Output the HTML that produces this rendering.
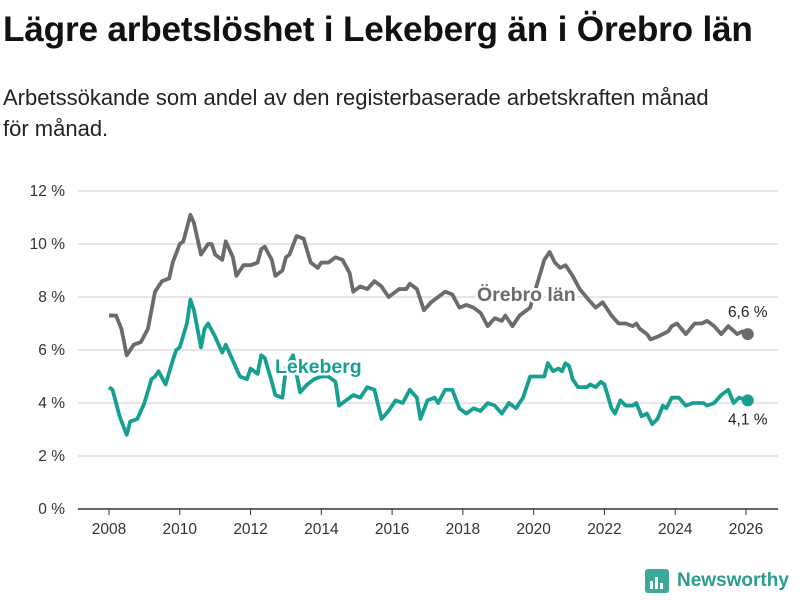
<!DOCTYPE html>
<html><head><meta charset="utf-8"><style>
body{margin:0;width:800px;height:600px;background:#fff;font-family:"Liberation Sans",sans-serif;overflow:hidden}
h1{position:absolute;left:3px;top:10px;margin:0;font-size:35.2px;font-weight:bold;color:#111;letter-spacing:-0.2px;white-space:nowrap}
p{position:absolute;left:3px;top:82px;margin:0;font-size:22px;line-height:31px;color:#222;width:730px}
</style></head><body>
<h1>Lägre arbetslöshet i Lekeberg än i Örebro län</h1>
<p>Arbetssökande som andel av den registerbaserade arbetskraften månad för månad.</p>
<svg id="c" width="800" height="600" style="position:absolute;left:0;top:0"></svg>
<div style="position:absolute;left:645px;top:569px;display:flex;align-items:center;color:#2a9d8f;font-weight:bold;font-size:19px">
<svg width="24" height="24" style="margin-right:8px"><rect width="24" height="24" rx="3" fill="#3aa99a"/><rect x="5" y="12" width="3" height="8" fill="#fff"/><rect x="10" y="8" width="3" height="12" fill="#fff"/><rect x="15" y="14" width="3" height="6" fill="#fff"/></svg>Newsworthy</div>
<script>
const yTicks=[0,2,4,6,8,10,12];
const xTicks=[2008,2010,2012,2014,2016,2018,2020,2022,2024,2026];
const orebroYears=[2008.0,2008.2,2008.35,2008.5,2008.7,2008.9,2009.1,2009.3,2009.5,2009.7,2009.8,2010.0,2010.1,2010.3,2010.4,2010.6,2010.8,2010.9,2011.0,2011.2,2011.3,2011.5,2011.6,2011.8,2012.0,2012.2,2012.3,2012.4,2012.6,2012.7,2012.9,2013.0,2013.1,2013.3,2013.5,2013.7,2013.9,2014.0,2014.2,2014.4,2014.6,2014.8,2014.9,2015.1,2015.3,2015.5,2015.7,2015.9,2016.0,2016.2,2016.4,2016.5,2016.7,2016.9,2017.1,2017.3,2017.5,2017.7,2017.9,2018.1,2018.3,2018.5,2018.7,2018.9,2019.1,2019.2,2019.4,2019.6,2019.9,2020.1,2020.3,2020.45,2020.6,2020.75,2020.9,2021.1,2021.3,2021.55,2021.75,2021.95,2022.2,2022.4,2022.6,2022.8,2022.9,2023.0,2023.2,2023.3,2023.5,2023.8,2023.9,2024.05,2024.3,2024.55,2024.75,2024.9,2025.1,2025.3,2025.5,2025.75,2025.9,2026.05];
const orebroValues=[7.3,7.3,6.8,5.8,6.2,6.3,6.8,8.2,8.6,8.7,9.3,10.0,10.1,11.1,10.8,9.6,10.0,10.0,9.6,9.4,10.1,9.5,8.8,9.2,9.2,9.3,9.8,9.9,9.4,8.8,9.0,9.5,9.6,10.3,10.2,9.3,9.1,9.3,9.3,9.5,9.4,8.9,8.2,8.4,8.3,8.6,8.4,8.0,8.1,8.3,8.3,8.5,8.3,7.5,7.8,8.0,8.2,8.1,7.6,7.7,7.6,7.4,6.9,7.2,7.1,7.3,6.9,7.3,7.6,8.5,9.4,9.7,9.3,9.1,9.2,8.8,8.3,7.9,7.6,7.8,7.3,7.0,7.0,6.9,7.0,6.8,6.6,6.4,6.5,6.7,6.9,7.0,6.6,7.0,7.0,7.1,6.9,6.6,6.9,6.6,6.7,6.6];
const lekeYears=[2008.0,2008.1,2008.3,2008.5,2008.6,2008.8,2009.0,2009.2,2009.3,2009.4,2009.6,2009.8,2009.9,2010.0,2010.2,2010.3,2010.4,2010.6,2010.7,2010.8,2011.0,2011.2,2011.3,2011.5,2011.7,2011.9,2012.0,2012.2,2012.3,2012.4,2012.6,2012.7,2012.9,2013.0,2013.2,2013.4,2013.6,2013.8,2014.0,2014.2,2014.4,2014.5,2014.7,2014.9,2015.1,2015.3,2015.5,2015.7,2015.9,2016.1,2016.3,2016.5,2016.7,2016.8,2017.0,2017.2,2017.3,2017.5,2017.7,2017.9,2018.1,2018.3,2018.5,2018.7,2018.9,2019.1,2019.3,2019.5,2019.7,2019.9,2020.1,2020.3,2020.4,2020.55,2020.7,2020.8,2020.9,2021.0,2021.1,2021.25,2021.5,2021.6,2021.75,2021.9,2022.0,2022.2,2022.3,2022.45,2022.6,2022.8,2022.9,2023.05,2023.2,2023.35,2023.5,2023.65,2023.75,2023.9,2024.1,2024.3,2024.5,2024.8,2024.9,2025.1,2025.3,2025.5,2025.65,2025.8,2026.05];
const lekeValues=[4.6,4.5,3.5,2.8,3.3,3.4,4.0,4.9,5.0,5.2,4.7,5.6,6.0,6.1,7.0,7.9,7.5,6.1,6.8,7.0,6.5,5.9,6.2,5.6,5.0,4.9,5.3,5.1,5.8,5.7,4.8,4.3,4.2,5.3,5.8,4.4,4.7,4.9,5.0,5.0,4.8,3.9,4.1,4.3,4.2,4.6,4.5,3.4,3.7,4.1,4.0,4.5,4.2,3.4,4.1,4.2,4.0,4.5,4.5,3.8,3.6,3.8,3.7,4.0,3.9,3.6,4.0,3.8,4.2,5.0,5.0,5.0,5.5,5.2,5.3,5.2,5.5,5.4,4.9,4.6,4.6,4.7,4.6,4.8,4.7,3.8,3.6,4.1,3.9,3.9,4.0,3.5,3.6,3.2,3.4,3.9,3.8,4.2,4.2,3.9,4.0,4.0,3.9,4.0,4.3,4.5,4.0,4.2,4.1];
const svg=document.getElementById('c'),NS='http://www.w3.org/2000/svg';
const X=t=>109+(t-2008)*(746-109)/18, Y=v=>509-v*26.5;
function mk(tag,a,parent){const e=document.createElementNS(NS,tag);for(const k in a)e.setAttribute(k,a[k]);(parent||svg).appendChild(e);return e;}
yTicks.forEach(v=>{
 const l=mk('line',{x1:78,x2:778,y1:Y(v),y2:Y(v),stroke:v?'#ddd':'#333','stroke-width':1.5});
 
 
 const t=mk('text',{x:65,y:Y(v)+5,'text-anchor':'end','font-size':15.5,fill:'#333','font-family':'Liberation Sans, sans-serif'});
 t.textContent=v+' %';
 
 
});
xTicks.forEach(y=>{
 const l=mk('line',{x1:X(y),x2:X(y),y1:509,y2:515,stroke:'#333'});
 
 
 const t=mk('text',{x:X(y),y:534,'text-anchor':'middle','font-size':15.5,fill:'#333','font-family':'Liberation Sans, sans-serif'});
 t.textContent=y;
 
 
});
function series(ys,vs,col,name){
 const p=mk('polyline',{points:ys.map((t,i)=>X(t)+','+Y(vs[i])).join(' '),fill:'none',stroke:col,'stroke-width':3.8,'stroke-linejoin':'round'});
 
 
 const n=ys.length-1;
 const c=mk('circle',{cx:X(ys[n]),cy:Y(vs[n]),r:6,fill:col});
 
 
 return [X(ys[n]),Y(vs[n])];
}
const o=series(orebroYears,orebroValues,'#6b6b6d','orebro');
const k=series(lekeYears,lekeValues,'#17a092','lekeberg');
function lab(x,y,txt,col,size,w,name,anchor){
 const t=mk('text',{x:x,y:y,'font-size':size,'font-weight':w,fill:col,'text-anchor':anchor||'start','font-family':'Liberation Sans, sans-serif',stroke:'#fff','stroke-width':w=='bold'?5:0,'paint-order':'stroke'});
 t.textContent=txt;
 
 
}
lab(477,301,'Örebro län','#6b6b6d',19.5,'bold','orebro-label');
lab(275,373,'Lekeberg','#17a092',19.5,'bold','lekeberg-label');
lab(o[0],o[1]-17,orebroValues[orebroValues.length-1].toString().replace('.',',')+' %','#222',15.5,'normal','orebro-end-value','middle');
lab(k[0],k[1]+24,lekeValues[lekeValues.length-1].toString().replace('.',',')+' %','#222',15.5,'normal','lekeberg-end-value','middle');
</script>
</body></html>
